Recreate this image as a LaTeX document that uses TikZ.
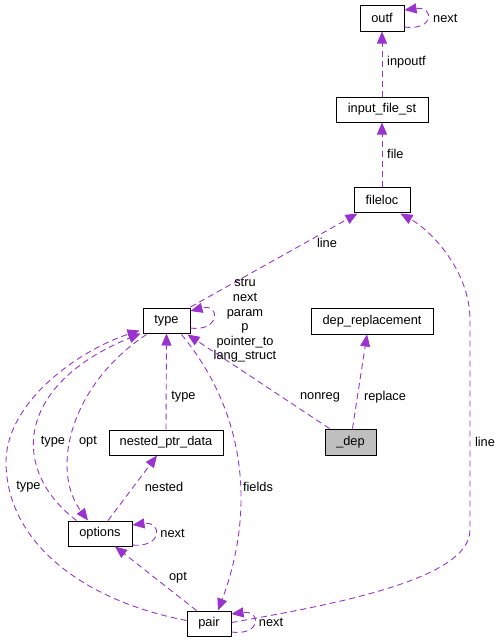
\documentclass[tikz,border=0pt]{standalone}
\usepackage{fontspec}
\setmainfont{Liberation Sans}
\usetikzlibrary{arrows.meta,calc}
\definecolor{edgecol}{HTML}{9A32CD}
\begin{document}
\begin{tikzpicture}[x=1pt,y=-1pt,
  box/.style={draw=black, line width=1pt, inner sep=0pt, font=\fontsize{12.8}{14}\selectfont, fill=white},
  edge/.style={draw=edgecol, line width=0.9pt, dash pattern=on 6pt off 4pt, -{Triangle[length=12pt,width=10pt]}, edgecol},
  lbl/.style={font=\fontsize{12.8}{14.6}\selectfont, inner sep=0pt, text=black}]
\useasboundingbox (0,0) rectangle (501,643);
\fill[white] (0,0) rectangle (501,643);
% nodes
\node[box, minimum width=44pt, minimum height=26pt] (outf) at (382,18) {outf};
\node[box, minimum width=92pt, minimum height=25pt] (input) at (382,109.5) {input\_file\_st};
\node[box, minimum width=56pt, minimum height=25pt] (fileloc) at (382,199.5) {fileloc};
\node[box, minimum width=47pt, minimum height=25pt] (type) at (166.5,320.5) {type};
\node[box, minimum width=122pt, minimum height=26pt] (deprep) at (372,321) {dep\_replacement};
\node[box, minimum width=51pt, minimum height=26pt, fill={rgb,255:red,191;green,191;blue,191}] (dep) at (350.5,442) {\_dep};
\node[box, minimum width=114pt, minimum height=25pt] (nested) at (166,442.5) {nested\_ptr\_data};
\node[box, minimum width=64pt, minimum height=25pt] (options) at (100,533.5) {options};
\node[box, minimum width=44pt, minimum height=25pt] (pair) at (209,623.5) {pair};
% edges
\draw[edge] (input.north) -- (outf.south);
\draw[edge] (outf.east |- 0,27) .. controls +(30,4) and +(30,-4) .. (outf.east |- 0,10);
\draw[edge] (fileloc.north) -- (input.south);
\draw[edge] (type.north east |- 0,307) -- ($(fileloc.south west)+(4,1)$);
\draw[edge] (type.east |- 0,328) .. controls +(30,4) and +(30,-8) .. (type.east |- 0,311);
\draw[edge] ($(dep.north west)+(5,0)$) -- ($(type.south east)+(-3,1)$);
\draw[edge] ($(dep.north)+(2,0)$) -- ($(deprep.south)+(-5,0)$);
\draw[edge] (nested.north) -- (type.south);
\draw[edge] ($(options.north)+(8,0)$) -- ($(nested.south)+(-9,0)$);
\draw[edge] (options.east |- 0,545) .. controls +(30,3) and +(30,-4) .. (options.east |- 0,525);
\draw[edge] ($(pair.north west)+(10,0)$) -- ($(options.south)+(15,0)$);
\draw[edge] (pair.east |- 0,632) .. controls +(30,4) and +(30,-4) .. (pair.east |- 0,614);
\draw[edge] ($(type.south east)+(-9,1)$) .. controls (252,420) and (252,520) .. ($(pair.north)+(9,0)$);
\draw[edge] ($(type.south west)+(4,1)$) .. controls (70,385) and (50,470) .. ($(options.north)+(-12,0)$);
\draw[edge] ($(options.north west)+(9,0)$) .. controls (10,470) and (15,385) .. ($(type.south west)+(-2,0)$);
\draw[edge] ($(pair.west)+(0,-3)$) .. controls (80,600) and (5,540) .. (6,460) .. controls (8,400) and (80,350) .. ($(type.south west)+(-3,-3)$);
\draw[edge] ($(pair.east)+(0,-1)$) .. controls (330,605) and (470,580) .. (470,530) -- (470,320) .. controls (470,270) and (430,230) .. ($(fileloc.south east)+(-10,1)$);
% labels
\node[lbl, anchor=west] (l1) at (387,62) {inpoutf};
\node[lbl, anchor=west] (l2) at (387,153.5) {file};
\node[lbl, anchor=west] (l3) at (433,18) {next};
\node[lbl] (l4) at (327,243) {line};
\node[lbl, align=center] (l5) at (245,320.5) {stru\\next\\param\\p\\pointer\_to\\lang\_struct};
\node[lbl] (l6) at (320,397) {nonreg};
\node[lbl] (l7) at (385,397) {replace};
\node[lbl] (l8) at (183.5,397) {type};
\node[lbl] (l9) at (53,442) {type};
\node[lbl] (l10) at (88,442) {opt};
\node[lbl] (l11) at (28.5,487) {type};
\node[lbl] (l12) at (164,487) {nested};
\node[lbl] (l13) at (172.5,533) {next};
\node[lbl] (l14) at (258,487) {fields};
\node[lbl] (l15) at (485,442) {line};
\node[lbl] (l16) at (178,578) {opt};
\node[lbl] (l17) at (271,622) {next};
\end{tikzpicture}
\end{document}
